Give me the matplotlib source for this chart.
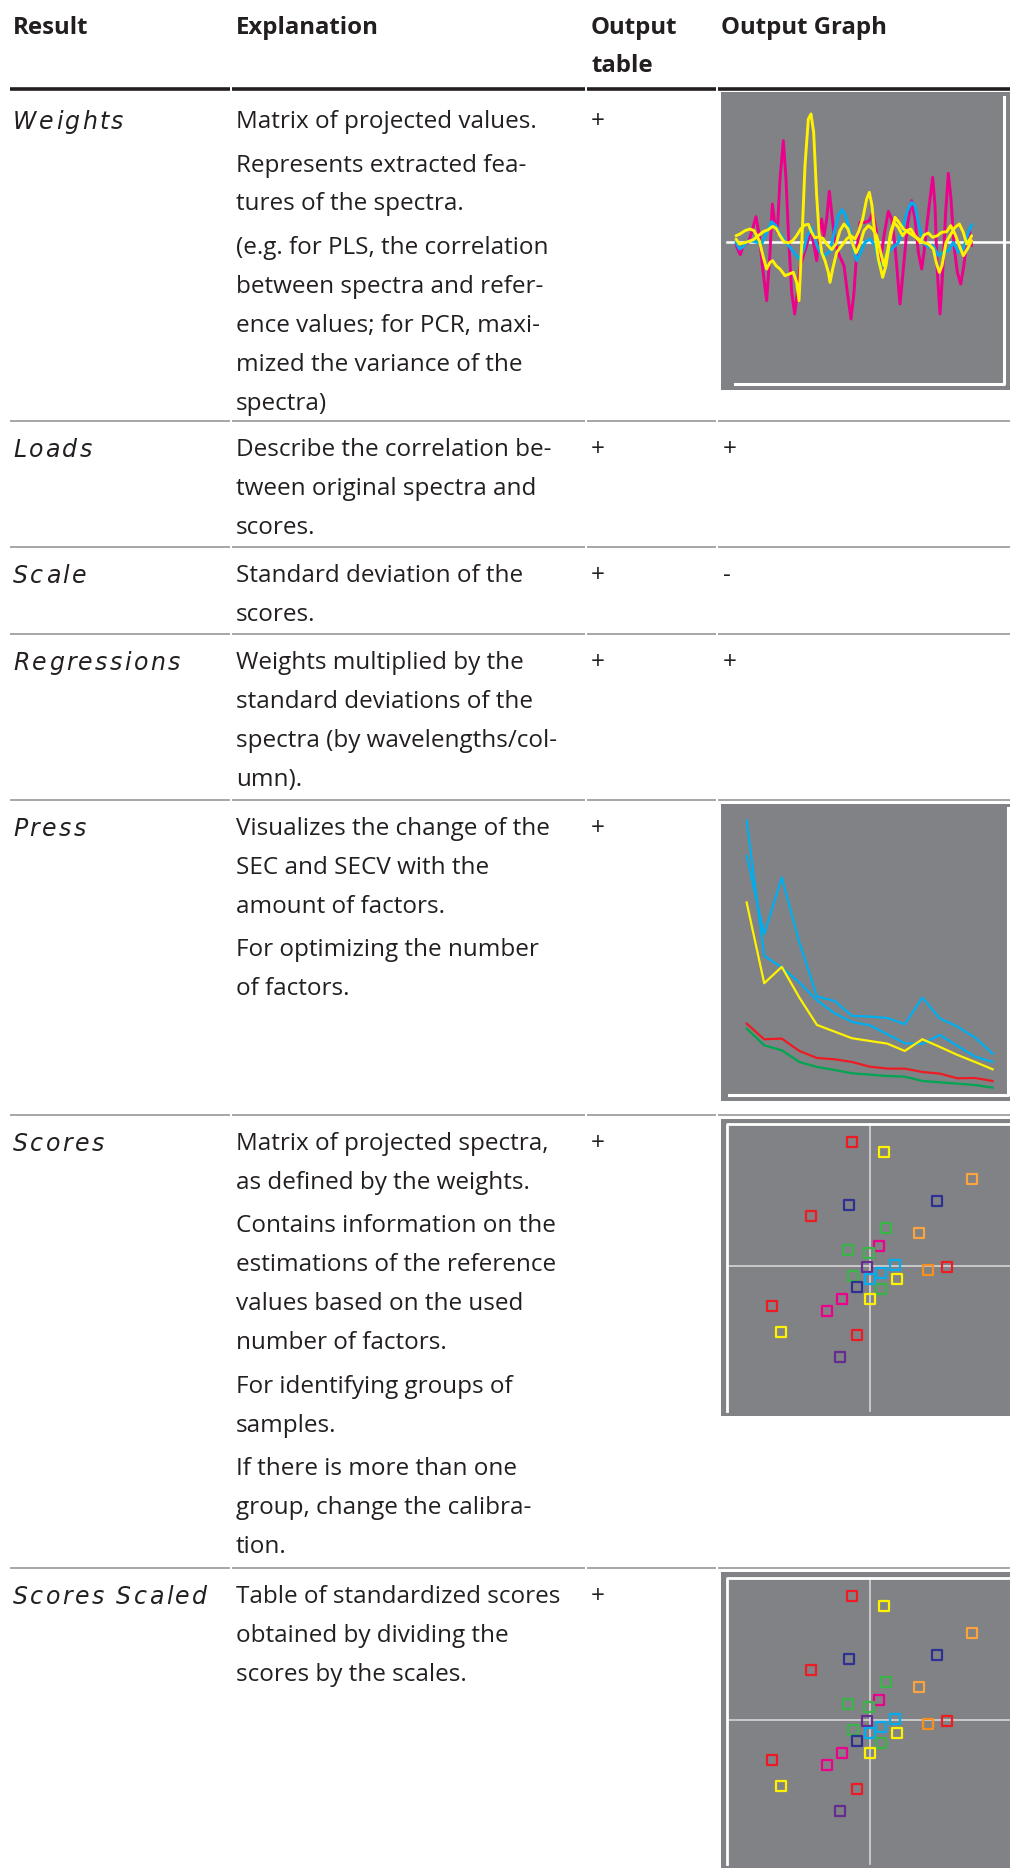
import matplotlib
matplotlib.use("Agg")
import matplotlib.pyplot as plt
from matplotlib.markers import MarkerStyle
from matplotlib.font_manager import FontProperties, findfont
from matplotlib.ft2font import FT2Font

# ---- table text ----
headers = ["Result", "Explanation", "Output\ntable", "Output Graph"]
results = ["Weights", "Loads", "Scale", "Regressions", "Press", "Scores", "Scores Scaled"]
explanations = [
    [["Matrix of projected values."],
     ["Represents extracted fea-", "tures of the spectra."],
     ["(e.g. for PLS, the correlation", "between spectra and refer-",
      "ence values; for PCR, maxi-", "mized the variance of the", "spectra)"]],
    [["Describe the correlation be-", "tween original spectra and", "scores."]],
    [["Standard deviation of the", "scores."]],
    [["Weights multiplied by the", "standard deviations of the",
      "spectra (by wavelengths/col-", "umn)."]],
    [["Visualizes the change of the", "SEC and SECV with the", "amount of factors."],
     ["For optimizing the number", "of factors."]],
    [["Matrix of projected spectra,", "as defined by the weights."],
     ["Contains information on the", "estimations of the reference",
      "values based on the used", "number of factors."],
     ["For identifying groups of", "samples."],
     ["If there is more than one", "group, change the calibra-", "tion."]],
    [["Table of standardized scores", "obtained by dividing the", "scores by the scales."]],
]
output_table = ["+", "+", "+", "+", "+", "+", "+"]
output_graph = [None, "+", "-", "+", None, None, None]

# ---- weights chart ----
wl_magenta = [108, 115, 121, 128, 135, 145, 155, 168, 178, 187, 200, 210, 217, 224, 232, 240, 250, 258, 266, 275,
              284, 292, 300, 310, 320, 332, 342, 350, 358, 365, 372, 380, 388, 396, 405, 418, 432, 442, 453, 462,
              470, 480, 495, 508, 518, 528, 540, 552, 565, 575, 585, 600, 610, 622, 635, 645, 655, 665, 672, 680,
              690, 698, 705, 712, 720, 728, 737, 745, 753, 762, 772, 782, 790, 798, 808, 815]
w_magenta = [-0.07, -0.27, -0.39, -0.17, -0.07, -0.02, 0.28, 0.75, 0.18, -0.72, -1.77, -0.32, 1.13, 0.58, 0.28, 1.88,
             3.03, 1.88, 0.08, -1.52, -2.17, -1.52, -0.77, -0.42, -0.12, 0.38, -0.12, -0.57, 0.18, 0.68, 0.18, 0.68,
             1.51, 0.78, -0.02, -0.42, -0.72, -1.52, -2.32, -1.52, -0.32, 0.58, 0.58, 0.63, 0.88, 0.38, -0.67, 0.18,
             0.91, 0.68, -0.12, -1.87, -0.82, 0.48, 1.23, 0.68, -0.32, -0.82, -0.32, 0.43, 1.28, 1.93, 1.08, -0.92,
             -2.17, -0.92, 0.88, 2.05, 1.28, -0.12, -0.92, -1.27, -0.82, -0.22, 0.33, -0.12]
wl_cyan = [108, 118, 128, 140, 150, 165, 185, 200, 215, 228, 240, 255, 270, 285, 298, 310, 322, 335, 348, 360,
           375, 390, 405, 415, 425, 435, 447, 458, 470, 482, 495, 510, 525, 540, 552, 565, 580, 595, 610, 622,
           635, 645, 657, 670, 685, 700, 715, 730, 745, 760, 775, 790, 805, 815]
w_cyan = [-0.02, -0.22, -0.17, -0.02, 0.03, 0.00, -0.07, 0.28, 0.60, 0.48, 0.23, 0.03, -0.17, -0.37, -0.52, -0.27,
          0.18, 0.43, -0.02, -0.32, -0.42, -0.27, 0.38, 0.78, 0.96, 0.83, 0.43, -0.12, -0.57, -0.32, -0.02, 0.08,
          -0.12, -0.77, -0.57, -0.32, -0.17, -0.02, 0.48, 0.93, 1.18, 1.08, 0.48, -0.02, -0.17, -0.12, -0.42, -0.32,
          -0.27, -0.02, -0.32, -0.22, 0.28, 0.51]
wl_yellow1 = [108, 120, 135, 150, 162, 178, 190, 200, 210, 218, 228, 240, 255, 268, 280, 290, 297, 305, 315, 325,
              333, 341, 350, 357, 365, 375, 385, 390, 398, 410, 425, 440, 452, 465, 475, 488, 500, 508, 516, 525,
              535, 548, 558, 570, 585, 597, 610, 625, 640, 655, 670, 685, 700, 710, 718, 726, 738, 750, 765, 778,
              790, 800, 810, 815]
w_yellow1 = [0.18, 0.23, 0.33, 0.38, 0.33, 0.03, -0.47, -0.82, -0.62, -0.57, -0.72, -0.82, -1.02, -0.97, -0.92,
             -1.22, -1.77, -0.12, 2.28, 3.68, 3.83, 3.28, 1.38, 0.28, -0.32, -0.57, -0.92, -1.22, -0.82, -0.32,
             -0.12, 0.08, 0.18, 0.08, 0.28, 0.68, 1.28, 1.48, 1.08, 0.18, -0.52, -1.07, -0.72, 0.08, 0.73, 0.58,
             0.38, 0.28, 0.18, 0.08, -0.02, -0.07, -0.22, -0.67, -0.92, -0.72, -0.02, 0.18, 0.43, 0.53, 0.28,
             -0.07, 0.08, 0.18]
wl_yellow2 = [108, 118, 130, 145, 160, 175, 190, 205, 218, 228, 240, 252, 265, 278, 290, 302, 314, 325, 334, 344,
              356, 368, 380, 395, 408, 420, 432, 444, 456, 468, 480, 492, 505, 518, 530, 542, 552, 562, 572, 582,
              595, 608, 620, 632, 645, 660, 672, 685, 698, 712, 725, 740, 752, 765, 778, 790, 802, 815]
w_yellow2 = [0.08, -0.07, -0.04, 0.00, 0.06, 0.18, 0.30, 0.36, 0.46, 0.40, 0.18, 0.00, -0.04, 0.03, 0.18, 0.38,
             0.50, 0.52, 0.30, 0.12, 0.14, 0.10, -0.07, -0.24, -0.07, 0.33, 0.53, 0.38, -0.02, -0.34, -0.07, 0.33,
             0.48, 0.38, 0.18, -0.32, -0.72, -0.32, 0.28, 0.58, 0.43, 0.18, 0.33, 0.38, 0.18, -0.02, 0.20, 0.26,
             0.13, 0.18, 0.28, 0.30, 0.48, 0.23, -0.12, -0.42, -0.22, 0.03]

# ---- press chart ----
factors = list(range(1, 16))
secv_1 = [8.23, 4.18, 3.83, 3.38, 2.85, 2.46, 2.20, 2.10, 1.83, 1.56, 1.54, 1.81, 1.48, 1.16, 1.00]
secv_2 = [7.18, 4.83, 6.53, 4.58, 2.96, 2.83, 2.38, 2.36, 2.32, 2.13, 2.93, 2.30, 2.06, 1.73, 1.25]
sec_yellow = [5.78, 3.36, 3.85, 2.93, 2.11, 1.91, 1.71, 1.63, 1.55, 1.33, 1.68, 1.45, 1.21, 1.00, 0.78]
sec_red = [2.15, 1.68, 1.70, 1.33, 1.12, 1.08, 1.00, 0.86, 0.80, 0.80, 0.70, 0.65, 0.51, 0.52, 0.43]
sec_green = [2.00, 1.50, 1.35, 1.00, 0.85, 0.76, 0.66, 0.62, 0.58, 0.56, 0.43, 0.39, 0.35, 0.31, 0.23]

# ---- scores chart ----
score_x = [-0.18, 0.14, 1.02, 0.67, -0.21, -0.59, 0.16, 0.49, 0.09, -0.22, -0.01, -0.03, 0.25, 0.58, 0.77, 0.11,
           -0.17, 0.00, 0.27, -0.13, 0.11, -0.28, 0.00, -0.98, -0.43, -0.89, -0.13, -0.30]
score_y = [1.24, 1.14, 0.87, 0.65, 0.61, 0.50, 0.38, 0.33, 0.20, 0.16, 0.13, -0.01, 0.01, -0.04, -0.01, -0.07,
           -0.10, -0.13, -0.13, -0.21, -0.23, -0.33, -0.33, -0.40, -0.45, -0.66, -0.69, -0.91]
score_group = ["red", "yellow", "orange", "navy", "navy", "red", "green", "orange", "magenta", "green", "green",
               "purple", "cyan", "dorange", "red", "cyan", "green", "cyan", "yellow", "navy", "green", "magenta",
               "yellow", "red", "magenta", "yellow", "red", "purple"]

colors = {"red": "#ED1C24", "yellow": "#FFF200", "orange": "#F9A43F", "dorange": "#F7901E", "navy": "#2E3192",
          "green": "#39B54A", "dgreen": "#00A651", "magenta": "#EC008C", "purple": "#662D91", "cyan": "#00AEEF"}
GRAY = "#808285"
INK = "#231F20"

W, H = 1010, 1874
fig = plt.figure(figsize=(W / 100, H / 100), dpi=100)
fig.patch.set_facecolor("white")
base = fig.add_axes([0, 0, 1, 1])
base.set_xlim(0, W)
base.set_ylim(H, 0)
base.axis("off")

body_font = dict(family="Open Sans", size=17.5, color=INK)
head_font = dict(family="Open Sans", size=17.3, weight="bold", color=INK)
label_font = dict(family="DejaVu Sans", style="oblique", size=17, color=INK)

# glyph advances for the letter-spaced italic labels
label_ft = FT2Font(findfont(FontProperties(family="DejaVu Sans", style="oblique")))
label_ft.set_size(label_font["size"], 100)


def spaced_text(x, y, s, spacing, **kw):
    for ch in s:
        base.text(x, y, ch, va="baseline", ha="left", **kw)
        x += label_ft.load_char(ord(ch)).linearHoriAdvance / 65536 + spacing


col_x = [13, 236, 591, 721]
segments = [(10, 230), (232, 585), (587, 716), (718, 1010)]
row_tops = [90, 422, 548, 635, 801, 1116, 1569]
line_h = 39
para_gap = 4.5

# header
for cx, h in zip(col_x, headers):
    for k, part in enumerate(h.split("\n")):
        base.text(cx, 34 + k * 38, part, va="baseline", ha="left", **head_font)
for a, b in segments:
    base.plot([a, b], [90, 90], color=INK, lw=2.6, solid_capstyle="butt")

for i, top in enumerate(row_tops):
    first = top + (30 if i == 0 else 26)
    base_y = first + 8
    if i > 0:
        for a, b in segments:
            base.plot([a, b], [top, top], color="#8E8E8E", lw=1.1, solid_capstyle="butt")
    spaced_text(col_x[0], base_y + 1, results[i], 2.4, **label_font)
    y = base_y
    for p, para in enumerate(explanations[i]):
        if p:
            y += para_gap
        for line in para:
            base.text(col_x[1], y, line, va="baseline", ha="left", **body_font)
            y += line_h
    base.text(col_x[2], base_y, output_table[i], va="baseline", ha="left", **body_font)
    if output_graph[i]:
        base.text(col_x[3] + 2, base_y, output_graph[i], va="baseline", ha="left", **body_font)


def px_axes(x0, y0, x1, y1):
    ax = fig.add_axes([x0 / W, 1 - y1 / H, (x1 - x0) / W, (y1 - y0) / H])
    ax.set_facecolor(GRAY)
    for s in ax.spines.values():
        s.set_visible(False)
    ax.set_xticks([])
    ax.set_yticks([])
    return ax


# weights
ax = px_axes(721, 93, 1010, 391)
ax.set_xlim(63, 930)
ax.set_ylim(-4.45, 4.49)
ax.plot([80, 930], [0, 0], color="white", lw=1.8, zorder=1)
ax.plot([105, 912, 912], [-4.27, -4.27, 4.33], color="white", lw=2.2, zorder=1)
line_kw = dict(lw=2.1, solid_joinstyle="round", solid_capstyle="round")
ax.plot(wl_magenta, w_magenta, color=colors["magenta"], zorder=2, **line_kw)
ax.plot(wl_cyan, w_cyan, color=colors["cyan"], zorder=3, **line_kw)
ax.plot(wl_yellow2, w_yellow2, color=colors["yellow"], zorder=4, **line_kw)
ax.plot(wl_yellow1, w_yellow1, color=colors["yellow"], zorder=4, **line_kw)

# press
ax = px_axes(721, 805, 1010, 1102)
ax.set_xlim(-0.46, 15.99)
ax.set_ylim(-0.17, 8.73)
ax.plot([0.01, 15.9, 15.9], [0, 0, 8.6], color="white", lw=2.2, zorder=1)
ax.plot(factors, secv_1, color=colors["cyan"], lw=1.6)
ax.plot(factors, secv_2, color=colors["cyan"], lw=1.6)
ax.plot(factors, sec_yellow, color=colors["yellow"], lw=1.6)
ax.plot(factors, sec_red, color=colors["red"], lw=1.6)
ax.plot(factors, sec_green, color=colors["dgreen"], lw=1.6)

# scores and scores scaled
marker = MarkerStyle("s", joinstyle="round")
for (y0, y1, cy, ftop, fbot) in [(1120, 1417, 1267, 1125, 1412), (1573, 1869, 1721, 1579, 1865)]:
    ax = px_axes(721, y0, 1010, y1)
    ax.set_xlim(-1.49, 1.40)
    ax.set_ylim((cy - y1) / 100, (cy - y0) / 100)
    top = (cy - ftop) / 100
    bot = (cy - fbot) / 100
    ax.plot([-1.43, 1.40], [0, 0], color="#D6D6D6", lw=1.2, zorder=1)
    ax.plot([0, 0], [top, bot], color="#D6D6D6", lw=1.2, zorder=1)
    ax.plot([-1.43, -1.43, 1.40], [bot, top, top], color="white", lw=2.0, zorder=1)
    ax.scatter(score_x, score_y, s=62, marker=marker, facecolors="none",
               edgecolors=[colors[g] for g in score_group], linewidths=1.6, zorder=3)

fig.savefig("out.png", dpi=100, facecolor="white")
